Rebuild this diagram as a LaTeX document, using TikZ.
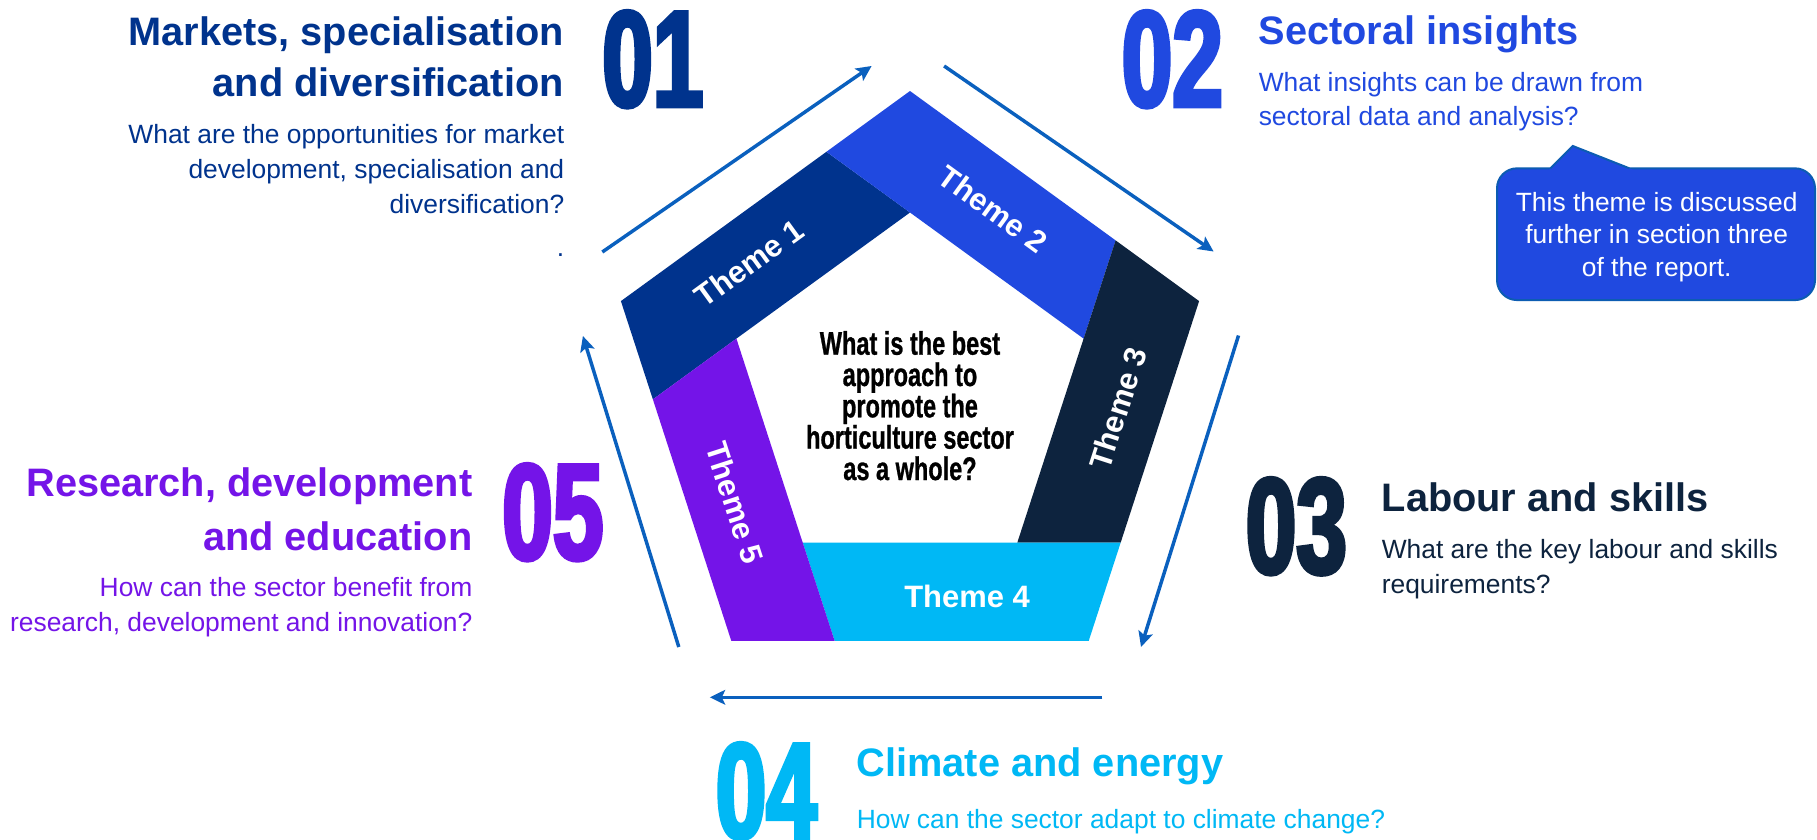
\documentclass[tikz,border=0pt]{standalone}
\usepackage{fontspec}
\setmainfont{Liberation Sans}
\newfontfamily\numfont{Liberation Sans Bold}[FakeStretch=0.665,FakeBold=3]
\newfontfamily\condfont{Liberation Sans Bold}[FakeStretch=0.72,FakeBold=0.8]
\usetikzlibrary{arrows.meta}
\definecolor{cone}{RGB}{0,51,141}
\definecolor{ctwo}{RGB}{32,73,224}
\definecolor{cthree}{RGB}{13,35,62}
\definecolor{cfour}{RGB}{0,184,245}
\definecolor{cfive}{RGB}{116,20,232}
\definecolor{carrow}{RGB}{10,96,190}
\definecolor{cborder}{RGB}{12,92,178}
\begin{document}
\begin{tikzpicture}[x=0.75pt,y=-0.75pt,
  title/.style={font=\fontsize{29.8}{36}\selectfont\bfseries,inner sep=0},
  sub/.style={font=\fontsize{19.8}{24}\selectfont,inner sep=0},
  num/.style={font=\numfont\fontsize{102.5}{102}\selectfont,inner sep=0,anchor=base west},
  themelbl/.style={font=\fontsize{23.2}{28}\selectfont\bfseries,text=white,inner sep=0},
  centretxt/.style={font=\condfont\fontsize{24.5}{28}\selectfont,text=black,inner sep=0,anchor=base},
  cyclearrow/.style={draw=carrow,line width=2.6pt,-{Stealth[length=11.5pt,width=11pt,inset=2.5pt]}},
  callbox/.style={fill=ctwo,draw=cborder,line width=1.5pt,rounded corners=15pt,minimum width=238.5pt,minimum height=98.8pt,inner sep=0},
  calltxt/.style={font=\fontsize{19.8}{24}\selectfont,text=white,inner sep=0,anchor=base}]
\fill[white] (0,0) rectangle (1817,839);
\useasboundingbox (0,0) rectangle (1817,839);
% pentagon vertices
\coordinate (O1) at (910,91);
\coordinate (O2) at (1199.1,301.1);
\coordinate (O3) at (1088.7,640.9);
\coordinate (O4) at (731.3,640.9);
\coordinate (O5) at (620.9,301.1);
\coordinate (I1) at (910,212.5);
\coordinate (I2) at (1083.6,338.6);
\coordinate (I3) at (1017.3,542.6);
\coordinate (I4) at (802.7,542.6);
\coordinate (I5) at (736.4,338.6);
\coordinate (X1) at (intersection of I2--I1 and O5--O1);
\coordinate (X2) at (intersection of I3--I2 and O1--O2);
\coordinate (X3) at (intersection of I4--I3 and O2--O3);
\coordinate (X4) at (intersection of I5--I4 and O3--O4);
\coordinate (X5) at (intersection of I1--I5 and O4--O5);
% bands
\fill[cone] (O5) -- (X1) -- (I1) -- (I5) -- (X5) -- cycle;
\fill[ctwo] (O1) -- (X2) -- (I2) -- (I1) -- (X1) -- cycle;
\fill[cthree] (O2) -- (X3) -- (I3) -- (I2) -- (X2) -- cycle;
\fill[cfour] (O3) -- (X4) -- (I4) -- (I3) -- (X3) -- cycle;
\fill[cfive] (O4) -- (X5) -- (I5) -- (I4) -- (X4) -- cycle;
% theme labels
\node[themelbl,rotate=36] (l1) at (749,263) {Theme 1};
\node[themelbl,rotate=-36] (l2) at (993,209) {Theme 2};
\node[themelbl,rotate=72] (l3) at (1118,408) {Theme 3};
\node[themelbl] (l4) at (967,596) {Theme 4};
\node[themelbl,rotate=-72] (l5) at (735,503) {Theme 5};
% centre question
\node[centretxt] (q1) at (910,354.7) {What is the best};
\node[centretxt] (q2) at (910,386) {approach to};
\node[centretxt] (q3) at (910,417.3) {promote the};
\node[centretxt] (q4) at (910,448.6) {horticulture sector};
\node[centretxt] (q5) at (910,480) {as a whole?};
% cycle arrows
\coordinate (a1s) at (602.3,252);  \coordinate (a1e) at (871.6,66);
\coordinate (a2s) at (944.1,66);   \coordinate (a2e) at (1213.6,251.5);
\coordinate (a3s) at (1238.5,335.5); \coordinate (a3e) at (1141,647);
\coordinate (a4s) at (1102.4,697.3); \coordinate (a4e) at (709.8,697.3);
\coordinate (a5s) at (678.8,647);  \coordinate (a5e) at (582.9,336);
\draw[cyclearrow] (a1s) -- (a1e);
\draw[cyclearrow] (a2s) -- (a2e);
\draw[cyclearrow] (a3s) -- (a3e);
\draw[cyclearrow] (a4s) -- (a4e);
\draw[cyclearrow] (a5s) -- (a5e);
% block 01
\node[num,text=cone] (n1) at (602,106.3) {01};
\node[title,text=cone,anchor=base east] (t1a) at (564,45.5) {Markets, specialisation};
\node[title,text=cone,anchor=base east] (t1b) at (564,96.7) {and diversification};
\node[sub,text=cone,anchor=base east] (s1a) at (564.5,143.3) {What are the opportunities for market};
\node[sub,text=cone,anchor=base east] (s1b) at (564.5,178.3) {development, specialisation and};
\node[sub,text=cone,anchor=base east] (s1c) at (564.5,213.3) {diversification?};
\node[sub,text=cone,anchor=base east] (dot1) at (564.5,256.7) {.};
% block 02
\node[num,text=ctwo] (n2) at (1121.5,106.3) {02};
\node[title,text=ctwo,anchor=base west] (t2) at (1258.5,44) {Sectoral insights};
\node[sub,text=ctwo,anchor=base west] (s2a) at (1258.5,91.5) {What insights can be drawn from};
\node[sub,text=ctwo,anchor=base west] (s2b) at (1258.5,125.5) {sectoral data and analysis?};
% callout
\node[callbox] (callout) at (1656,234.2) {};
\coordinate (cbL) at (1550.5,168.3);
\coordinate (ctip) at (1572.8,146);
\coordinate (cbR) at (1629.3,168.3);
\fill[ctwo] (1546.3,172.5) -- (ctip) -- (1640,172.5) -- cycle;
\draw[cborder,line width=1.5pt,line join=miter] (cbL) -- (ctip) -- (cbR);
\node[calltxt] (c1) at (1656.7,211.7) {This theme is discussed};
\node[calltxt] (c2) at (1656.7,243.3) {further in section three};
\node[calltxt] (c3) at (1656.7,276) {of the report.};
% block 03
\node[num,text=cthree] (n3) at (1245.5,573.3) {03};
\node[title,text=cthree,anchor=base west] (t3) at (1381.5,511.7) {Labour and skills};
\node[sub,text=cthree,anchor=base west] (s3a) at (1381.5,558.3) {What are the key labour and skills};
\node[sub,text=cthree,anchor=base west] (s3b) at (1381.5,593.3) {requirements?};
% block 04
\node[num,text=cfour] (n4) at (715.5,838.3) {04};
\node[title,text=cfour,anchor=base west] (t4) at (856.5,776.7) {Climate and energy};
\node[sub,text=cfour,anchor=base west] (s4) at (856.5,828.3) {How can the sector adapt to climate change?};
% block 05
\node[num,text=cfive] (n5) at (502,559.3) {05};
\node[title,text=cfive,anchor=base east] (t5a) at (472.7,496.7) {Research, development};
\node[title,text=cfive,anchor=base east] (t5b) at (472.7,550) {and education};
\node[sub,text=cfive,anchor=base east] (s5a) at (472.7,596.7) {How can the sector benefit from};
\node[sub,text=cfive,anchor=base east] (s5b) at (472.7,631.7) {research, development and innovation?};
\end{tikzpicture}
\end{document}
